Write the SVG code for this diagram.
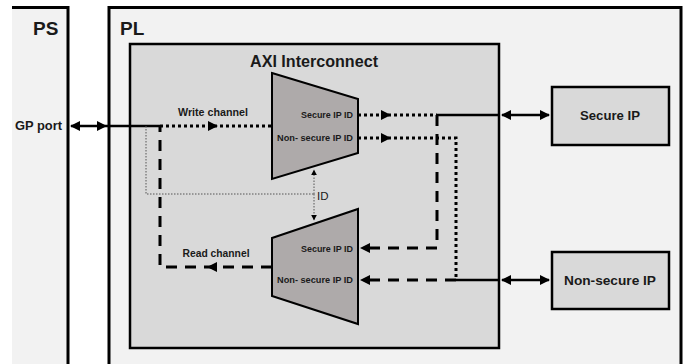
<svg xmlns="http://www.w3.org/2000/svg" width="685" height="364" viewBox="0 0 685 364">
<defs>
<style>
.t{font-family:"Liberation Sans",Arial,sans-serif;font-weight:bold;fill:#1a1a1a}
.dot{fill:none;stroke:#000;stroke-width:3;stroke-dasharray:3 3}
.dash{fill:none;stroke:#000;stroke-width:3;stroke-dasharray:11 8}
.sol{fill:none;stroke:#000;stroke-width:2.5}
.thin{fill:none;stroke:#555;stroke-width:1;stroke-dasharray:1.5 1.5}
.mux{fill:#aeaaaa;stroke:#000;stroke-width:2}
.ip{fill:#d9d9d9;stroke:#000;stroke-width:2.5}
</style>
<marker id="ah" viewBox="0 0 10 10" refX="9" refY="5" markerWidth="4" markerHeight="4" orient="auto-start-reverse" markerUnits="strokeWidth">
<path d="M0,0 L10,5 L0,10 z" fill="#000"/>
</marker>
<marker id="ahs" viewBox="0 0 10 10" refX="9" refY="5" markerWidth="6" markerHeight="6" orient="auto-start-reverse" markerUnits="strokeWidth">
<path d="M0,0 L10,5 L0,10 z" fill="#000"/>
</marker>
</defs>
<rect width="685" height="364" fill="#fff"/>
<g id="ps">
<rect x="12" y="7" width="56" height="360" fill="#f2f2f2"/>
<path d="M12,7.5 H68 V364" fill="none" stroke="#000" stroke-width="3"/>
<text class="t" x="33" y="35" font-size="19">PS</text>
<text class="t" x="15" y="130" font-size="12" textLength="47" lengthAdjust="spacingAndGlyphs">GP port</text>
</g>
<g id="pl">
<rect x="109" y="7.5" width="572" height="360" fill="#f2f2f2" stroke="#000" stroke-width="3"/>
<text class="t" x="120" y="35" font-size="19">PL</text>
</g>
<g id="axi">
<rect x="130" y="44" width="369" height="304" fill="#d9d9d9" stroke="#000" stroke-width="2.5"/>
<text class="t" x="314" y="67" font-size="16" text-anchor="middle" textLength="128" lengthAdjust="spacingAndGlyphs">AXI Interconnect</text>
</g>
<g id="connectors">
<line x1="71" y1="126" x2="106" y2="126" stroke="#000" stroke-width="2.5" marker-start="url(#ah)" marker-end="url(#ah)"/>
<line x1="106" y1="126" x2="160" y2="126" class="sol"/>
<line x1="160" y1="126" x2="272" y2="126" class="dot"/>
<polygon points="208,121 218,126 208,131" fill="#000"/>
<text class="t" x="213" y="116" font-size="10.5" text-anchor="middle" textLength="70" lengthAdjust="spacingAndGlyphs">Write channel</text>
<path d="M272,267 H160 V126" class="dash"/>
<polygon points="217,262 207,267 217,272" fill="#000"/>
<text class="t" x="216" y="257" font-size="10.5" text-anchor="middle" textLength="67" lengthAdjust="spacingAndGlyphs">Read channel</text>
<path d="M146,126 V194 H314" class="thin"/>
<line x1="314" y1="194" x2="314" y2="170" class="thin" marker-end="url(#ahs)"/>
<line x1="314" y1="194" x2="314" y2="220" class="thin" marker-end="url(#ahs)"/>
<text x="317" y="200" font-family="Liberation Sans,Arial,sans-serif" font-size="11.5" fill="#1a1a1a">ID</text>
<line x1="358" y1="115" x2="437" y2="115" class="dot"/>
<polygon points="381,110 391,115 381,120" fill="#000"/>
<line x1="437" y1="115" x2="499" y2="115" class="sol"/>
<path d="M437,115 V248 H362" class="dash"/>
<polygon points="370,243 360,248 370,253" fill="#000"/>
<path d="M358,138 H456 V280" class="dot"/>
<polygon points="381,133 391,138 381,143" fill="#000"/>
<line x1="456" y1="280" x2="362" y2="280" class="dash"/>
<polygon points="370,275 360,280 370,285" fill="#000"/>
<line x1="456" y1="280" x2="499" y2="280" class="sol"/>
<line x1="502" y1="115" x2="549" y2="115" stroke="#000" stroke-width="2.5" marker-start="url(#ah)" marker-end="url(#ah)"/>
<line x1="502" y1="280" x2="549" y2="280" stroke="#000" stroke-width="2.5" marker-start="url(#ah)" marker-end="url(#ah)"/>
</g>
<g id="mux-write">
<polygon class="mux" points="272,73 358,99 358,153 272,179"/>
<text class="t" x="353" y="118" font-size="8.5" text-anchor="end" textLength="52" lengthAdjust="spacingAndGlyphs">Secure IP ID</text>
<text class="t" x="353" y="141" font-size="8.5" text-anchor="end" textLength="76" lengthAdjust="spacingAndGlyphs">Non- secure IP ID</text>
</g>
<g id="mux-read">
<polygon class="mux" points="272,238 358,209 358,324 272,296"/>
<text class="t" x="353" y="252" font-size="8.5" text-anchor="end" textLength="52" lengthAdjust="spacingAndGlyphs">Secure IP ID</text>
<text class="t" x="353" y="283" font-size="8.5" text-anchor="end" textLength="76" lengthAdjust="spacingAndGlyphs">Non- secure IP ID</text>
</g>
<g id="secure-ip">
<rect class="ip" x="552" y="87" width="117" height="58"/>
<text class="t" x="610" y="120" font-size="13" text-anchor="middle" textLength="60" lengthAdjust="spacingAndGlyphs">Secure IP</text>
</g>
<g id="nonsecure-ip">
<rect class="ip" x="552" y="252" width="117" height="57"/>
<text class="t" x="610" y="285" font-size="13" text-anchor="middle" textLength="92" lengthAdjust="spacingAndGlyphs">Non-secure IP</text>
</g>
</svg>
